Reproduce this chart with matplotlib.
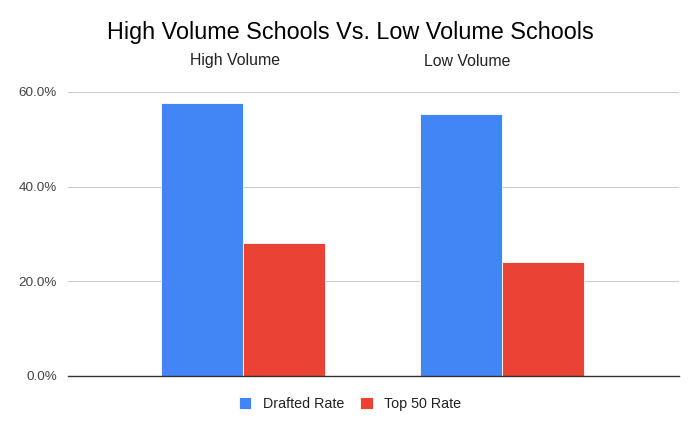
import matplotlib
matplotlib.use("Agg")
import matplotlib.pyplot as plt
import numpy as np
from matplotlib.ticker import FuncFormatter

plt.rcParams['font.family'] = ['Liberation Sans', 'DejaVu Sans']

categories = ["High Volume", "Low Volume"]
drafted_rate = [57.7, 55.4]
top50_rate = [28.2, 24.1]
series_names = ["Drafted Rate", "Top 50 Rate"]

blue = "#4285f4"
red = "#ea4335"

fig = plt.figure(figsize=(7, 4.33), dpi=100)
ax = fig.add_axes([68 / 700, 1 - 376 / 433, 611 / 700, 284 / 433])

x = np.arange(len(categories))
w = 0.317
ax.bar(x - w / 2, drafted_rate, w, color=blue, label=series_names[0],
       edgecolor="white", linewidth=0.6)
ax.bar(x + w / 2, top50_rate, w, color=red, label=series_names[1],
       edgecolor="white", linewidth=0.6)

ax.set_xlim(-0.676, 1.683)
ax.set_ylim(0, 60)
ax.set_yticks([0, 20, 40, 60])
ax.yaxis.set_major_formatter(FuncFormatter(lambda v, p: f"{v:.1f}%"))
ax.tick_params(axis="y", length=0, pad=8, labelsize=9.7, labelcolor="#444444")
ax.set_xticks([])
ax.grid(axis="y", color="#cccccc", linewidth=0.8)
ax.set_axisbelow(True)
for s in ["top", "right", "left"]:
    ax.spines[s].set_visible(False)
ax.spines["bottom"].set_color("#333333")
ax.spines["bottom"].set_linewidth(1.0)
ax.spines["bottom"].set_zorder(5)

fig.text(0.5, 1 - 33 / 433, "High Volume Schools Vs. Low Volume Schools",
         ha="center", va="center", fontsize=16.8, color="#000000")
# category labels sit above the plot
label_x = [235.5, 467]
for lx, name in zip(label_x, categories):
    fig.text(lx / 700, 1 - 61 / 433, name, ha="center", va="center",
             fontsize=11.4, color="#222222")

fig.legend(loc="center", bbox_to_anchor=(0.5, 1 - 404 / 433), ncol=2,
           frameon=False, handlelength=0.9, handleheight=0.9,
           columnspacing=1.1, handletextpad=0.8, fontsize=10.3,
           labelcolor="#222222")

fig.savefig("out.png", dpi=100)
